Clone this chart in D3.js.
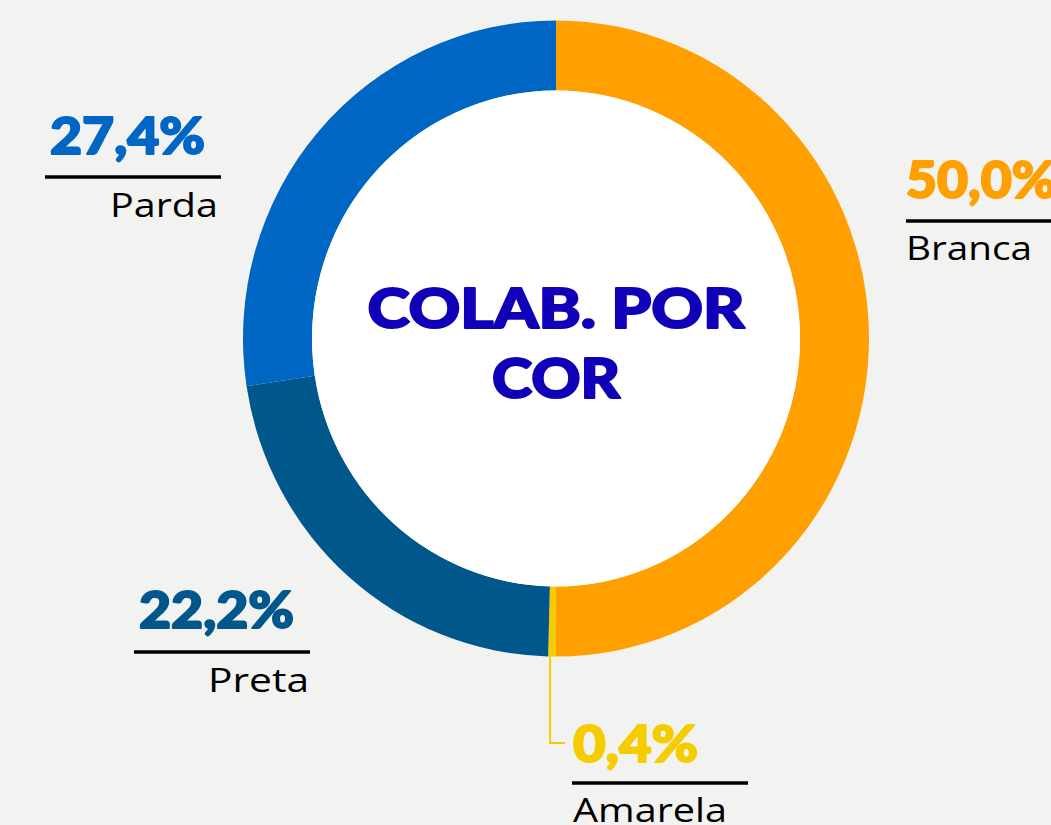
<!DOCTYPE html>
<html>
<head>
<meta charset="utf-8">
<script src="https://cdn.jsdelivr.net/npm/d3@7"></script>
<style>
  html, body { margin: 0; padding: 0; background: #F2F2F1; }
  svg { display: block; }
</style>
</head>
<body>
<svg id="chart" width="1051" height="825"></svg>
<script>
// ---- data ----
const categories = ["Branca", "Amarela", "Preta", "Parda"];
const values = [50.0, 0.4, 22.2, 27.4];
const valueLabels = ["50,0%", "0,4%", "22,2%", "27,4%"];
const centerTitle = ["COLAB. POR", "COR"];

// ---- styles / layout ----
const colors = ["#FF9F00", "#F5CC00", "#00578C", "#0066C4"];
const labelLayout = [
  { x: 906, numY: 198, lineY: 221, lineX0: 906, lineX1: 1051, catY: 260, anchor: "start", numW: 150, catW: 126 },
  { x: 573, numY: 762, lineY: 783, lineX0: 572, lineX1: 748, catY: 822, anchor: "start", numW: 125, catW: 154 },
  { x: 309, numY: 628, lineY: 652, lineX0: 134, lineX1: 310, catY: 692, anchor: "end", numW: 155, numX: 139, catW: 101 },
  { x: 218, numY: 154, lineY: 177, lineX0: 45, lineX1: 221, catY: 217, anchor: "end", numW: 155, numX: 50, catW: 108 }
];

const svg = d3.select("#chart");
const W = 1051, H = 825;
svg.append("rect").attr("width", W).attr("height", H).attr("fill", "#F2F2F1");

const cx = 556, cy = 338.5, rOuter = 313, rInner = 244, sy = 1.016;

const pie = d3.pie().sort(null).value(d => d).startAngle(0).endAngle(2 * Math.PI);
const arcs = pie(values);
const arc = d3.arc().innerRadius(rInner).outerRadius(rOuter);

const g = svg.append("g").attr("transform", `translate(${cx},${cy}) scale(1,${sy})`);
g.selectAll("path.slice").data(arcs).join("path")
  .attr("class", "slice")
  .attr("d", arc)
  .attr("fill", (d, i) => colors[i]);
g.append("circle").attr("r", rInner).attr("fill", "#FFFFFF");

// center title
const title = svg.append("text")
  .attr("text-anchor", "middle")
  .attr("font-family", "Lato, 'DejaVu Sans', sans-serif")
  .attr("font-weight", 900)
  .attr("font-size", 56)
  .attr("fill", "#1000B8")
  .attr("stroke", "#1000B8")
  .attr("stroke-width", 2)
  .attr("stroke-linejoin", "round");
title.append("tspan").attr("x", 556).attr("y", 328).attr("textLength", 377).attr("lengthAdjust", "spacingAndGlyphs").text(centerTitle[0]);
title.append("tspan").attr("x", 556).attr("y", 398).attr("textLength", 128).attr("lengthAdjust", "spacingAndGlyphs").text(centerTitle[1]);

// Amarela leader line
const yellowArc = arcs[1];
const midA = (yellowArc.startAngle + yellowArc.endAngle) / 2;
const lx = cx + rOuter * Math.sin(midA) - 2;
const ly0 = cy - rOuter * Math.cos(midA) * sy;
svg.append("path")
  .attr("d", `M${lx},${ly0} V743 H565`)
  .attr("fill", "none")
  .attr("stroke", colors[1])
  .attr("stroke-width", 2);

// labels
categories.forEach((cat, i) => {
  const L = labelLayout[i];
  const nx = L.numX !== undefined ? L.numX : L.x;
  svg.append("text")
    .attr("x", nx).attr("y", L.numY)
    .attr("font-family", "Lato, 'DejaVu Sans', sans-serif")
    .attr("font-weight", 900)
    .attr("font-size", 52)
    .attr("fill", colors[i])
    .attr("stroke", colors[i])
    .attr("stroke-width", 2)
    .attr("stroke-linejoin", "round")
    .attr("textLength", L.numW)
    .attr("lengthAdjust", "spacingAndGlyphs")
    .text(valueLabels[i]);
  svg.append("line")
    .attr("x1", L.lineX0).attr("x2", L.lineX1)
    .attr("y1", L.lineY).attr("y2", L.lineY)
    .attr("stroke", "#000").attr("stroke-width", 3.5);
  svg.append("text")
    .attr("x", L.x).attr("y", L.catY)
    .attr("text-anchor", L.anchor)
    .attr("font-family", "'Open Sans', Lato, sans-serif")
    .attr("font-weight", 500)
    .attr("font-size", 33)
    .attr("fill", "#000")
    .attr("textLength", L.catW)
    .attr("lengthAdjust", "spacingAndGlyphs")
    .text(cat);
});
</script>
</body>
</html>
